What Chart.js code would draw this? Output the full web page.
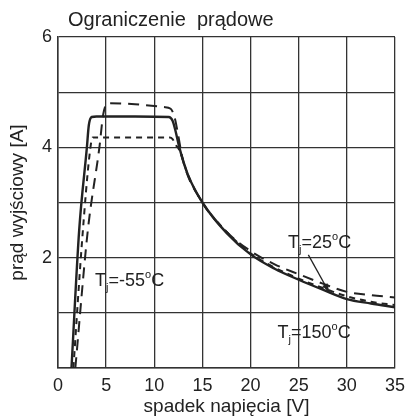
<!DOCTYPE html>
<html>
<head>
<meta charset="utf-8">
<script src="https://cdn.jsdelivr.net/npm/chart.js@4"></script>
<style>
  html, body { margin: 0; padding: 0; background: #fff; }
  #wrap { width: 405px; height: 418px; }
</style>
</head>
<body>
<div id="wrap"><canvas id="chart" width="405" height="418"></canvas></div>
<script>
// ---------- DATA ----------
const xTicks = [0, 5, 10, 15, 20, 25, 30, 35];
const yTickLabels = [2, 4, 6];

// Tj = 25°C (solid)
const solidX = [1.4, 2.2, 3.0, 3.2, 3.5, 4, 8, 11.5, 11.9, 12.2, 12.6, 13.5, 15, 17.5, 20, 22.5, 25, 27.5, 30, 32.5, 35];
const solidY = [0, 2.5, 4.0, 4.4, 4.55, 4.56, 4.56, 4.55, 4.48, 4.3, 4.0, 3.5, 3.0, 2.45, 2.06, 1.8, 1.6, 1.42, 1.25, 1.17, 1.1];

// Tj = -55°C (long dash)
const coldX = [1.8, 3.1, 4.3, 4.7, 5.2, 8, 11, 11.7, 12.1, 12.4, 13, 15, 17.5, 20, 22.5, 25, 27.5, 30, 32.5, 35];
const coldY = [0, 2.5, 4.0, 4.6, 4.8, 4.78, 4.73, 4.7, 4.55, 4.3, 3.75, 3.0, 2.47, 2.12, 1.88, 1.7, 1.53, 1.38, 1.32, 1.28];

// Tj = 150°C (short dash)
const hotX = [1.6, 2.5, 3.3, 3.6, 8, 11.6, 11.9, 12.2, 12.6, 13.5, 15, 17.5, 20, 22.5, 25, 27.5, 30, 32.5, 35];
const hotY = [0, 2.3, 3.9, 4.18, 4.18, 4.18, 4.15, 4.05, 3.95, 3.5, 3.0, 2.47, 2.08, 1.82, 1.62, 1.45, 1.3, 1.2, 1.14];

// annotation anchors (data coordinates)
const labels = [
    { temp: '25', x: 23.9, y: 2.18 },
    { temp: '-55', x: 3.85, y: 1.48 },
    { temp: '150', x: 22.8, y: 0.55 }
];
const arrowFrom = [26.0, 2.05];
const arrowTo = [28.2, 1.36];

const INK = '#222';
const FONT = '"Liberation Sans", Arial, sans-serif';

const pts = (xs, ys) => xs.map((x, i) => ({ x, y: ys[i] }));

// ---------- TEXT PLUGIN ----------
const textPlugin = {
    id: 'texts',
    afterDraw(chart) {
        const { ctx, chartArea, scales } = chart;
        const sx = scales.x, sy = scales.y;
        ctx.save();
        ctx.fillStyle = INK;
        ctx.textBaseline = 'alphabetic';
        ctx.textAlign = 'left';

        // title
        ctx.font = '20px ' + FONT;
        ctx.fillText('Ograniczenie  prądowe', chartArea.left + 10, chartArea.top - 11);

        // Tj labels
        labels.forEach(l => {
            let px = sx.getPixelForValue(l.x);
            const py = sy.getPixelForValue(l.y);
            const parts = [
                ['T', 18, 0], ['j', 11, 5], ['=' + l.temp, 18, 0], ['o', 11, -8], ['C', 18, 0]
            ];
            parts.forEach(([t, size, dy]) => {
                ctx.font = size + 'px ' + FONT;
                ctx.fillText(t, px, py + dy);
                px += ctx.measureText(t).width;
            });
        });

        // arrow
        const ax = sx.getPixelForValue(arrowFrom[0]), ay = sy.getPixelForValue(arrowFrom[1]);
        const bx = sx.getPixelForValue(arrowTo[0]), by = sy.getPixelForValue(arrowTo[1]);
        ctx.strokeStyle = INK;
        ctx.lineWidth = 1.3;
        ctx.beginPath();
        ctx.moveTo(ax, ay);
        ctx.lineTo(bx, by);
        ctx.stroke();
        const ang = Math.atan2(by - ay, bx - ax);
        ctx.beginPath();
        ctx.moveTo(bx, by);
        ctx.lineTo(bx - 10 * Math.cos(ang - 0.3), by - 10 * Math.sin(ang - 0.3));
        ctx.lineTo(bx - 10 * Math.cos(ang + 0.3), by - 10 * Math.sin(ang + 0.3));
        ctx.closePath();
        ctx.fill();
        ctx.restore();
    }
};

// ---------- CHART ----------
const lineSet = (data, width, dash) => ({
    data,
    borderColor: INK,
    borderWidth: width,
    borderDash: dash,
    pointRadius: 0,
    fill: false,
    cubicInterpolationMode: 'monotone'
});

new Chart(document.getElementById('chart'), {
    type: 'line',
    data: {
        datasets: [
            lineSet(pts(solidX, solidY), 2.4, []),
            lineSet(pts(coldX, coldY), 2, [11, 7]),
            lineSet(pts(hotX, hotY), 2, [6, 5])
        ]
    },
    options: {
        responsive: false,
        animation: false,
        devicePixelRatio: 1,
        layout: { padding: { left: 0, top: 37, right: 10, bottom: 0 } },
        plugins: { legend: { display: false }, tooltip: { enabled: false } },
        scales: {
            x: {
                type: 'linear',
                min: 0, max: 35,
                afterBuildTicks: s => { s.ticks = xTicks.map(v => ({ value: v })); },
                afterFit: s => { s.height = 50; s.paddingRight = 0; s.paddingLeft = 0; },
                ticks: { color: INK, font: { family: FONT, size: 18 }, padding: 7, maxRotation: 0 },
                grid: { color: '#333', lineWidth: 1.3, drawTicks: false },
                border: { color: '#333', width: 1.5 },
                title: { display: true, text: 'spadek napięcia [V]', color: INK, font: { family: FONT, size: 19 }, padding: 0 }
            },
            y: {
                min: 0, max: 6,
                ticks: {
                    stepSize: 1, color: INK, font: { family: FONT, size: 18 }, padding: 6,
                    callback: v => yTickLabels.includes(v) ? String(v) : ''
                },
                afterFit: s => { s.width = 58; s.paddingTop = 0; s.paddingBottom = 0; },
                grid: { color: '#333', lineWidth: 1.3, drawTicks: false },
                border: { color: '#333', width: 1.5 },
                title: { display: true, text: 'prąd wyjściowy [A]', color: INK, font: { family: FONT, size: 19 }, padding: { top: 6, bottom: 0 } }
            }
        }
    },
    plugins: [textPlugin]
});
</script>
</body>
</html>
